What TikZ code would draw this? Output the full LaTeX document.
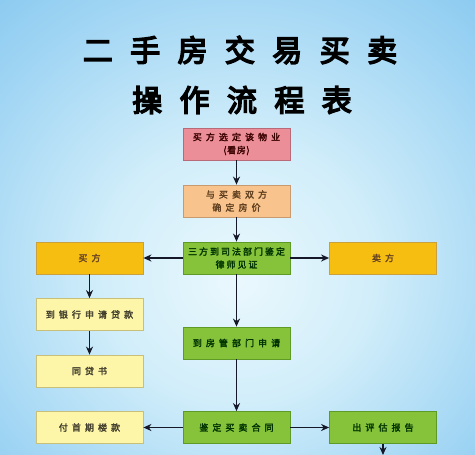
\documentclass[tikz,border=0pt]{standalone}
\usepackage{fontspec}
\usetikzlibrary{arrows.meta}
\newfontfamily\cjktitle[FakeBold=5,LetterSpace=58]{Noto Sans CJK SC}
\newfontfamily\cjkbox[FakeBold=2.2,LetterSpace=45]{Noto Sans CJK SC}
\newfontfamily\cjkboxn[FakeBold=2.2,LetterSpace=22]{Noto Sans CJK SC}
\newfontfamily\cjkboxt[FakeBold=2.2,LetterSpace=8]{Noto Sans CJK SC}
\definecolor{pinkf}{HTML}{EB8E97}
\definecolor{pinkd}{HTML}{B86A78}
\definecolor{peachf}{HTML}{F8C38C}
\definecolor{peachd}{HTML}{C89A70}
\definecolor{greenf}{HTML}{86C23A}
\definecolor{greend}{HTML}{5E9A26}
\definecolor{orangef}{HTML}{F7BE12}
\definecolor{oranged}{HTML}{C8A040}
\definecolor{yellowf}{HTML}{FDF5A8}
\definecolor{yellowd}{HTML}{C8C07A}
\definecolor{arrowc}{HTML}{151828}
\definecolor{bga}{HTML}{EAF8FD}
\definecolor{bgb}{HTML}{D2EEFA}
\definecolor{bgc}{HTML}{A2D6F4}
\definecolor{bgd}{HTML}{78C0EC}
\definecolor{bge}{HTML}{56AEE6}
\definecolor{bgf}{HTML}{45A4E2}
\pgfdeclareradialshading{bgshade}{\pgfpoint{0bp}{-6bp}}{%
  color(0bp)=(bga);
  color(14bp)=(bgb);
  color(30bp)=(bgc);
  color(45bp)=(bgd);
  color(60bp)=(bge);
  color(75bp)=(bgf)}
\tikzset{
  box/.style={minimum width=107pt, minimum height=32pt, inner sep=0pt, line width=0.8pt, align=center, font=\cjkbox\fontsize{9}{13}\selectfont},
  pinkbox/.style={box, fill=pinkf, draw=pinkd, text=black!55!red!50!black},
  peachbox/.style={box, fill=peachf, draw=peachd, text=brown!50!black},
  greenbox/.style={box, fill=greenf, draw=greend, text=green!20!black},
  orangebox/.style={box, fill=orangef, draw=oranged, text=brown!55!black},
  yellowbox/.style={box, fill=yellowf, draw=yellowd, text=olive!30!black},
  arr/.style={draw=arrowc, line width=1.6pt, -{Stealth[length=8pt,width=7pt]}},
  titlefont/.style={font=\cjktitle\fontsize{30}{32}\selectfont, inner sep=0pt, text=black}
}
\begin{document}
\begin{tikzpicture}[x=1pt,y=-1pt]
\useasboundingbox (0,0) rectangle (475,455);
\shade[shading=bgshade] (0,0) rectangle (475,455);
% title
\node[titlefont] (t1) at (240,50) {二手房交易买卖};
\node[titlefont] (t2) at (242,100) {操作流程表};
% boxes
\node[pinkbox] (b1) at (236.5,144) {买方选定该物业\\{\cjkboxt(看房)}};
\node[peachbox] (b2) at (236.5,201) {与买卖双方\\确定房价};
\node[greenbox, font=\cjkboxn\fontsize{9}{13}\selectfont] (b3) at (236.5,258) {三方到司法部门鉴定\\律师见证};
\node[orangebox] (buy) at (89.5,258) {买方};
\node[orangebox] (sell) at (383,258) {卖方};
\node[yellowbox] (bank) at (89.5,314.5) {到银行申请贷款};
\node[yellowbox] (loan) at (89.5,371) {同贷书};
\node[greenbox] (house) at (236.5,343) {到房管部门申请};
\node[yellowbox] (pay) at (89.5,427.5) {付首期楼款};
\node[greenbox] (contract) at (236.5,427.5) {鉴定买卖合同};
\node[greenbox] (eval) at (383,427.5) {出评估报告};
\coordinate (out) at (383,455);
% arrows
\draw[arr] (b1) -- (b2);
\draw[arr] (b2) -- (b3);
\draw[arr] (b3) -- (buy);
\draw[arr] (b3) -- (sell);
\draw[arr] (b3) -- (house);
\draw[arr] (house) -- (contract);
\draw[arr] (contract) -- (pay);
\draw[arr] (contract) -- (eval);
\draw[arr] (buy) -- (bank);
\draw[arr] (bank) -- (loan);
\draw[arr] (eval) -- (out);
\end{tikzpicture}
\end{document}
